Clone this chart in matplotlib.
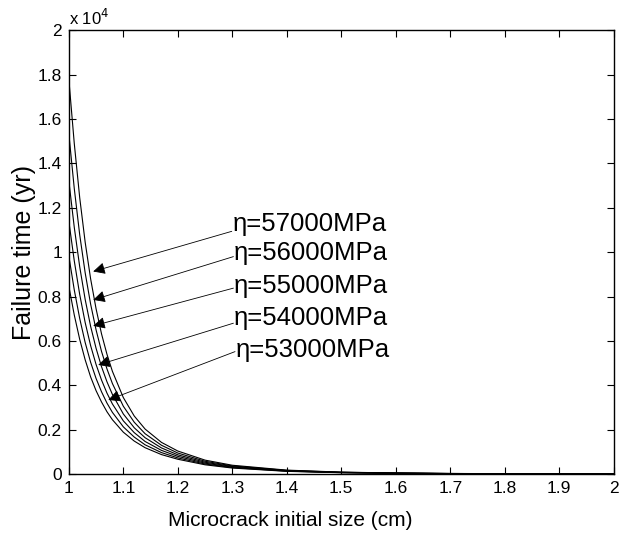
import matplotlib
matplotlib.use("Agg")
import matplotlib.pyplot as plt
from matplotlib.ticker import FuncFormatter

# microcrack initial size (cm)
a = [1.00, 1.01, 1.02, 1.03, 1.04, 1.05, 1.06, 1.07, 1.08, 1.10, 1.12,
     1.14, 1.17, 1.20, 1.25, 1.30, 1.40, 1.50, 1.60, 1.70, 1.80, 2.00]

# failure time, in units of 1e4 yr, highest curve first
t57 = [1.780, 1.490, 1.245, 1.045, 0.880, 0.745, 0.632, 0.540, 0.463, 0.345, 0.262,
       0.203, 0.143, 0.104, 0.063, 0.040, 0.0180, 0.0090, 0.0050, 0.0030, 0.0018, 0.0007]
t56 = [1.534, 1.287, 1.078, 0.907, 0.766, 0.650, 0.553, 0.474, 0.408, 0.306, 0.234,
       0.182, 0.130, 0.095, 0.058, 0.037, 0.0167, 0.0084, 0.0047, 0.0028, 0.0017, 0.00065]
t55 = [1.322, 1.112, 0.934, 0.787, 0.666, 0.567, 0.484, 0.416, 0.359, 0.271, 0.209,
       0.164, 0.118, 0.087, 0.0535, 0.0343, 0.0155, 0.0078, 0.0044, 0.0026, 0.0016, 0.0006]
t54 = [1.140, 0.961, 0.809, 0.683, 0.579, 0.494, 0.424, 0.365, 0.316, 0.240, 0.187,
       0.147, 0.107, 0.080, 0.0493, 0.0318, 0.0144, 0.0073, 0.0041, 0.0024, 0.0015, 0.00056]
t53 = [0.983, 0.830, 0.701, 0.593, 0.504, 0.431, 0.371, 0.320, 0.278, 0.213, 0.167,
       0.132, 0.097, 0.073, 0.0455, 0.0295, 0.0134, 0.0068, 0.0038, 0.0022, 0.0014, 0.00052]
t52 = [0.847, 0.717, 0.607, 0.515, 0.438, 0.376, 0.325, 0.281, 0.245, 0.189, 0.149,
       0.119, 0.088, 0.067, 0.0420, 0.0274, 0.0125, 0.0063, 0.0035, 0.0021, 0.0013, 0.00048]

curves = [t57, t56, t55, t54, t53, t52]

# annotations: label, arrow tip, arrow tail, text y
labels = ['η=57000MPa', 'η=56000MPa', 'η=55000MPa', 'η=54000MPa', 'η=53000MPa']
tips = [(1.0447, 0.913), (1.0447, 0.785), (1.0447, 0.668), (1.0539, 0.492), (1.0724, 0.334)]
tails = [(1.299, 1.094), (1.302, 0.980), (1.302, 0.838), (1.302, 0.680), (1.305, 0.552)]
text_y = [1.128, 0.997, 0.848, 0.704, 0.560]

plt.rcParams['font.family'] = ['Liberation Sans', 'DejaVu Sans']

fig = plt.figure(figsize=(6.2, 5.4), dpi=100)
ax = fig.add_axes([0.111, 0.122, 0.879, 0.822])

for t in curves:
    ax.plot(a, t, color='black', lw=0.8)

for lab, tip, tail, ty in zip(labels, tips, tails, text_y):
    ax.annotate('', xy=tip, xytext=tail,
                arrowprops=dict(arrowstyle='-|>', color='black', lw=0.6,
                                mutation_scale=18, shrinkA=0, shrinkB=0))
    ax.text(tail[0] + 0.001, ty, lab, fontsize=18.5, va='center', ha='left')

ax.set_xlim(1, 2)
ax.set_ylim(0, 2)
ax.set_xticks([1 + 0.1 * i for i in range(11)])
ax.set_yticks([0.2 * i for i in range(11)])
fmt = FuncFormatter(lambda v, p: '%g' % round(v, 2))
ax.xaxis.set_major_formatter(fmt)
ax.yaxis.set_major_formatter(fmt)
ax.tick_params(direction='in', top=True, right=True, length=5, width=0.8,
               labelsize=12.5, pad=5)
for s in ax.spines.values():
    s.set_linewidth(1.0)

ax.text(0.0, 1.004, 'x 10$^{4}$', transform=ax.transAxes, fontsize=12,
        ha='left', va='bottom')

ax.set_xlabel('Microcrack initial size (cm)', fontsize=15)
ax.xaxis.set_label_coords(0.406, -0.082)
ax.set_ylabel('Failure time (yr)', fontsize=18, labelpad=1)

fig.savefig('out.png', dpi=100)
